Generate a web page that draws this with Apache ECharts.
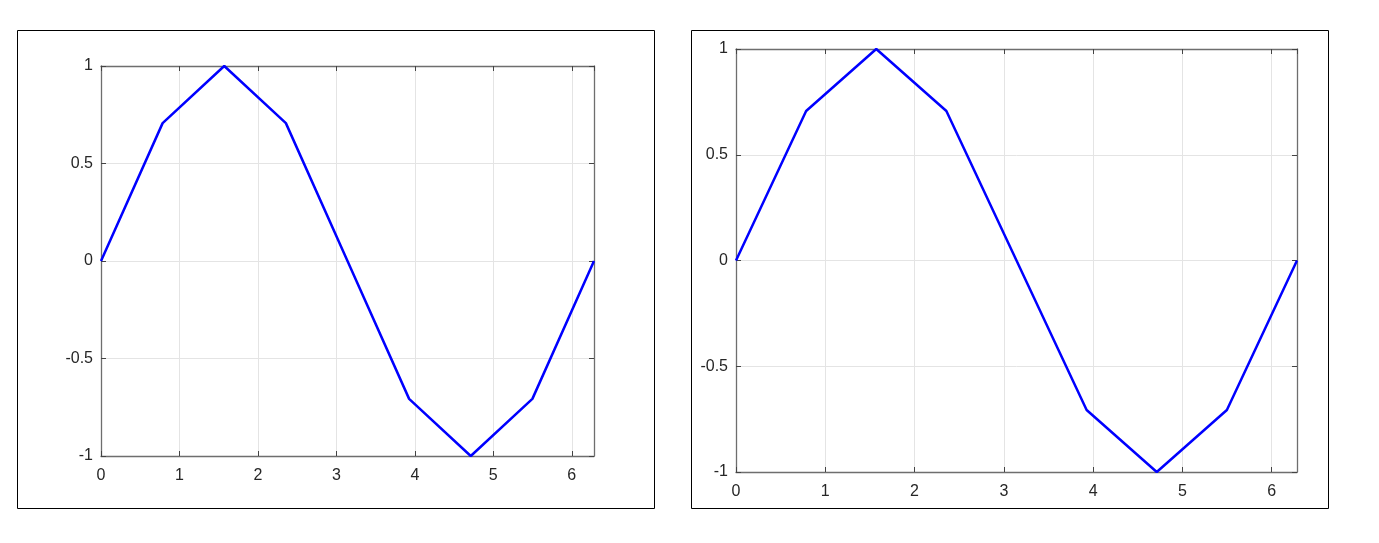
<!DOCTYPE html>
<html>
<head>
<meta charset="utf-8">
<script src="https://cdn.jsdelivr.net/npm/echarts@6/dist/echarts.min.js"></script>
<style>
html,body{margin:0;padding:0;background:#fff;}
#chart{width:1379px;height:543px;}
</style>
</head>
<body>
<div id="chart"></div>
<script>
const xValues = [0, 0.7854, 1.5708, 2.3562, 3.1416, 3.9270, 4.7124, 5.4978, 6.2832];
const yValues = [0, 0.7071, 1, 0.7071, 0, -0.7071, -1, -0.7071, 0];
const xTicks = [0, 1, 2, 3, 4, 5, 6];
const yTicks = [-1, -0.5, 0, 0.5, 1];

const FONT = 'Liberation Sans, Arial, sans-serif';
const AXIS_COLOR = '#6e6e6e';
const GRID_COLOR = '#e4e4e4';

function xAxisDef(gridIndex, pos, showLabels) {
  return {
    type: 'value', gridIndex: gridIndex, position: pos,
    min: 0, max: 6.2832, interval: 1,
    axisLine: {show: true, onZero: false, lineStyle: {color: AXIS_COLOR, width: 1.3}},
    axisTick: {show: true, inside: true, length: 5, lineStyle: {color: '#444'}},
    axisLabel: {show: showLabels, color: '#262626', fontSize: 16, fontFamily: FONT, margin: 12,
      showMaxLabel: false,
      formatter: v => xTicks.indexOf(v) >= 0 ? String(v) : ''},
    splitLine: {show: pos === 'bottom', lineStyle: {color: GRID_COLOR, width: 1}}
  };
}
function yAxisDef(gridIndex, pos, showLabels) {
  return {
    type: 'value', gridIndex: gridIndex, position: pos,
    min: -1, max: 1, interval: 0.5,
    axisLine: {show: true, onZero: false, lineStyle: {color: AXIS_COLOR, width: 1.3}},
    axisTick: {show: true, inside: true, length: 5, lineStyle: {color: '#444'}},
    axisLabel: {show: showLabels, color: '#262626', fontSize: 16, fontFamily: FONT, margin: 8,
      padding: [6, 0, 0, 0],
      formatter: v => yTicks.indexOf(v) >= 0 ? String(v) : ''},
    splitLine: {show: pos === 'left', lineStyle: {color: GRID_COLOR, width: 1}}
  };
}

const points = xValues.map((x, i) => [x, yValues[i]]);

const chart = echarts.init(document.getElementById('chart'), null, {renderer: 'canvas'});
chart.setOption({
  animation: false,
  backgroundColor: '#fff',
  graphic: [
    {type: 'rect', shape: {x: 17.5, y: 30.5, width: 637, height: 478}, style: {fill: 'none', stroke: '#000', lineWidth: 1}, silent: true, z: -1},
    {type: 'rect', shape: {x: 691.5, y: 30.5, width: 637, height: 478}, style: {fill: 'none', stroke: '#000', lineWidth: 1}, silent: true, z: -1}
  ],
  grid: [
    {left: 101, top: 66, width: 493, height: 390, containLabel: false},
    {left: 736, top: 49, width: 561, height: 423, containLabel: false}
  ],
  xAxis: [
    xAxisDef(0, 'bottom', true),
    xAxisDef(0, 'top', false),
    xAxisDef(1, 'bottom', true),
    xAxisDef(1, 'top', false)
  ],
  yAxis: [
    yAxisDef(0, 'left', true),
    yAxisDef(0, 'right', false),
    yAxisDef(1, 'left', true),
    yAxisDef(1, 'right', false)
  ],
  series: [
    {type: 'line', xAxisIndex: 0, yAxisIndex: 0, data: points, showSymbol: false,
      lineStyle: {color: '#0000ff', width: 2.5}, z: 5},
    {type: 'line', xAxisIndex: 2, yAxisIndex: 2, data: points, showSymbol: false,
      lineStyle: {color: '#0000ff', width: 2.5}, z: 5}
  ]
});
</script>
</body>
</html>
